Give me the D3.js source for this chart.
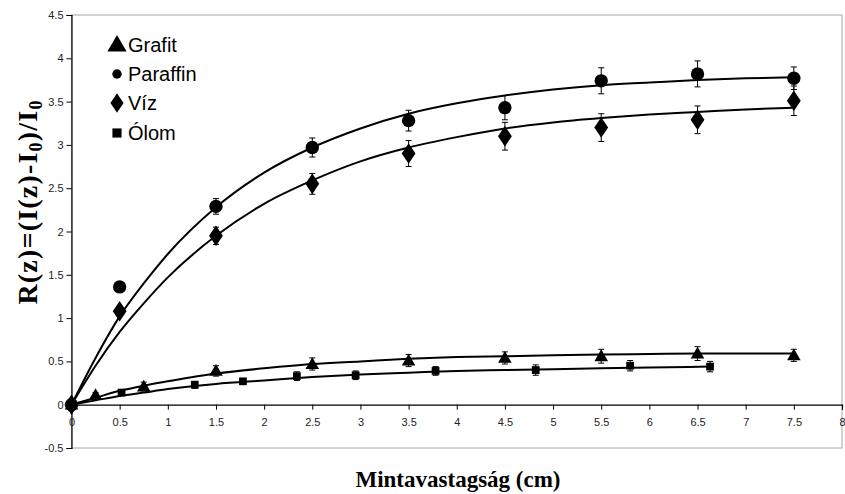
<!DOCTYPE html>
<meta charset="utf-8">
<script src="https://d3js.org/d3.v7.min.js"></script>
<style>
  body { margin: 0; background: #fff; }
</style>
<div id="chart"></div>
<script>
// measured points (x in cm, R value, error)
const parX = [0, 0.5, 1.5, 2.5, 3.5, 4.5, 5.5, 6.5, 7.5];
const parY = [0, 1.36, 2.29, 2.97, 3.28, 3.43, 3.74, 3.82, 3.77];
const parErr = [0.03, 0.04, 0.09, 0.11, 0.12, 0.14, 0.15, 0.15, 0.13];

const vizX = [0, 0.5, 1.5, 2.5, 3.5, 4.5, 5.5, 6.5, 7.5];
const vizY = [0, 1.08, 1.95, 2.55, 2.90, 3.10, 3.20, 3.29, 3.51];
const vizErr = [0.03, 0.04, 0.10, 0.12, 0.15, 0.16, 0.16, 0.16, 0.17];

const grafX = [0, 0.25, 0.75, 1.5, 2.5, 3.5, 4.5, 5.5, 6.5, 7.5];
const grafY = [0, 0.11, 0.21, 0.39, 0.47, 0.51, 0.54, 0.56, 0.59, 0.57];
const grafErr = [0.02, 0.03, 0.05, 0.06, 0.07, 0.07, 0.07, 0.08, 0.08, 0.07];

const olomX = [0, 0.52, 1.28, 1.78, 2.34, 2.95, 3.78, 4.82, 5.80, 6.63];
const olomY = [0, 0.14, 0.23, 0.27, 0.33, 0.34, 0.39, 0.40, 0.45, 0.44];
const olomErr = [0.02, 0.03, 0.04, 0.03, 0.05, 0.05, 0.05, 0.06, 0.06, 0.06];

// fitted trend curves
const fitX = [0, 0.25, 0.5, 0.75, 1, 1.5, 2, 2.5, 3, 3.5, 4, 4.5, 5, 5.5, 6, 6.5, 7, 7.5];
const parFit = [0, 0.54, 1.02, 1.40, 1.74, 2.28, 2.68, 2.97, 3.19, 3.36, 3.48, 3.57, 3.64, 3.69, 3.72, 3.75, 3.77, 3.78];
const vizFit = [0, 0.45, 0.84, 1.17, 1.47, 1.95, 2.32, 2.59, 2.81, 2.97, 3.09, 3.19, 3.26, 3.31, 3.35, 3.38, 3.41, 3.43];
const grafFit = [0, 0.08, 0.16, 0.22, 0.27, 0.36, 0.42, 0.47, 0.50, 0.53, 0.55, 0.56, 0.57, 0.58, 0.585, 0.59, 0.59, 0.59];
const olomFitX = [0, 0.25, 0.5, 0.75, 1, 1.5, 2, 2.5, 3, 3.5, 4, 4.5, 5, 5.5, 6, 6.63];
const olomFit = [0, 0.05, 0.10, 0.14, 0.18, 0.24, 0.28, 0.32, 0.35, 0.37, 0.39, 0.40, 0.41, 0.42, 0.43, 0.44];

const xTicks = d3.range(0, 8.01, 0.5);
const yTicks = d3.range(-0.5, 4.51, 0.5).map(d => +d.toFixed(1));

const legendNames = ["Grafit", "Paraffin", "Víz", "Ólom"];
const legendShapes = ["triangle", "circle", "diamond", "square"];

const W = 845, H = 494;
const plotL = 71.5, plotR = 842, plotT = 15, plotB = 448;

const svg = d3.select("#chart").append("svg")
    .attr("width", W).attr("height", H)
    .style("font-family", "'Liberation Sans', Arial, sans-serif");

const x = d3.scaleLinear().domain([0, 8]).range([plotL, plotR]);
const y = d3.scaleLinear().domain([-0.5, 4.5]).range([plotB, plotT]);

// plot area border (gray)
svg.append("rect")
    .attr("x", plotL).attr("y", plotT)
    .attr("width", plotR - plotL).attr("height", plotB - plotT)
    .attr("fill", "none").attr("stroke", "#a6a6a6").attr("stroke-width", 1);

// y axis
const yAxis = svg.append("g")
    .attr("transform", "translate(" + plotL + ",0)")
    .call(d3.axisLeft(y).tickValues(yTicks).tickSize(5).tickPadding(3)
        .tickFormat(d => String(d)));
yAxis.select(".domain").attr("stroke", "#000").attr("stroke-width", 1.2);
yAxis.selectAll("text").style("font-size", "11px").attr("fill", "#222");

// x axis at y = 0
const xAxis = svg.append("g")
    .attr("transform", "translate(0," + y(0) + ")")
    .call(d3.axisBottom(x).tickValues(xTicks).tickSize(5).tickPadding(9)
        .tickFormat(d => String(d)));
xAxis.select(".domain").attr("stroke", "#000").attr("stroke-width", 1.2);
xAxis.selectAll("text").style("font-size", "11px").attr("fill", "#222");

// trend lines
const line = d3.line().x(d => x(d[0])).y(d => y(d[1])).curve(d3.curveMonotoneX);
const fits = [
    fitX.map((v, i) => [v, parFit[i]]),
    fitX.map((v, i) => [v, vizFit[i]]),
    fitX.map((v, i) => [v, grafFit[i]]),
    olomFitX.map((v, i) => [v, olomFit[i]])
];
svg.append("g").selectAll("path")
    .data(fits)
    .join("path")
    .attr("d", line)
    .attr("fill", "none")
    .attr("stroke", "#000")
    .attr("stroke-width", 2);

// series for markers + error bars
const series = [
    { shape: "circle", xs: parX, ys: parY, es: parErr },
    { shape: "diamond", xs: vizX, ys: vizY, es: vizErr },
    { shape: "triangle", xs: grafX, ys: grafY, es: grafErr },
    { shape: "square", xs: olomX, ys: olomY, es: olomErr }
];

const symbolSize = { circle: 140, diamond: 150, triangle: 80, square: 60 };
const symbolType = {
    circle: d3.symbolCircle, diamond: d3.symbolDiamond,
    triangle: d3.symbolTriangle, square: d3.symbolSquare
};

function drawSymbol(g, shape, cx, cy, scale) {
    const s = (scale || 1) * symbolSize[shape];
    let path = d3.symbol().type(symbolType[shape]).size(s)();
    const p = g.append("path")
        .attr("d", path)
        .attr("fill", "#000");
    if (shape === "diamond") {
        p.attr("transform", "translate(" + cx + "," + cy + ") scale(1.05,0.9)");
    } else if (shape === "triangle") {
        p.attr("transform", "translate(" + cx + "," + (cy + 1) + ")");
    } else {
        p.attr("transform", "translate(" + cx + "," + cy + ")");
    }
}

series.forEach(s => {
    const g = svg.append("g");
    s.xs.forEach((xv, i) => {
        const cx = x(xv), e = s.es[i];
        const y1 = y(s.ys[i] + e), y2 = y(s.ys[i] - e);
        g.append("line").attr("x1", cx).attr("x2", cx).attr("y1", y1).attr("y2", y2)
            .attr("stroke", "#000").attr("stroke-width", 1);
        [y1, y2].forEach(yy => {
            g.append("line").attr("x1", cx - 3).attr("x2", cx + 3).attr("y1", yy).attr("y2", yy)
                .attr("stroke", "#000").attr("stroke-width", 1);
        });
        drawSymbol(g, s.shape, cx, y(s.ys[i]));
    });
});

// legend
const legend = svg.append("g");
const legRowY = [45, 74, 103, 133];
legendNames.forEach((name, i) => {
    const shape = legendShapes[i];
    const scale = { triangle: 2.0, circle: 0.5, diamond: 0.9, square: 1.4 }[shape];
    drawSymbol(legend, shape, 117, legRowY[i], scale);
    legend.append("text")
        .attr("x", 128).attr("y", legRowY[i] + 7)
        .style("font-size", "20px")
        .attr("fill", "#000")
        .text(name);
});

// axis titles
const yt = svg.append("text")
    .attr("transform", "translate(37,202) rotate(-90)")
    .attr("text-anchor", "middle")
    .style("font-family", "'Liberation Serif', 'Times New Roman', serif")
    .style("font-weight", "bold")
    .style("font-size", "28px")
    .style("letter-spacing", "1.2px");
yt.append("tspan").text("R(z)=(I(z)-I");
yt.append("tspan").text("0").style("font-size", "18px").attr("dy", 5);
yt.append("tspan").text(")/I").attr("dy", -5);
yt.append("tspan").text("0").style("font-size", "18px").attr("dy", 5);

svg.append("text")
    .attr("x", 458).attr("y", 487)
    .attr("text-anchor", "middle")
    .style("font-family", "'Liberation Serif', 'Times New Roman', serif")
    .style("font-weight", "bold")
    .style("font-size", "23px")
    .text("Mintavastagság (cm)");
</script>
